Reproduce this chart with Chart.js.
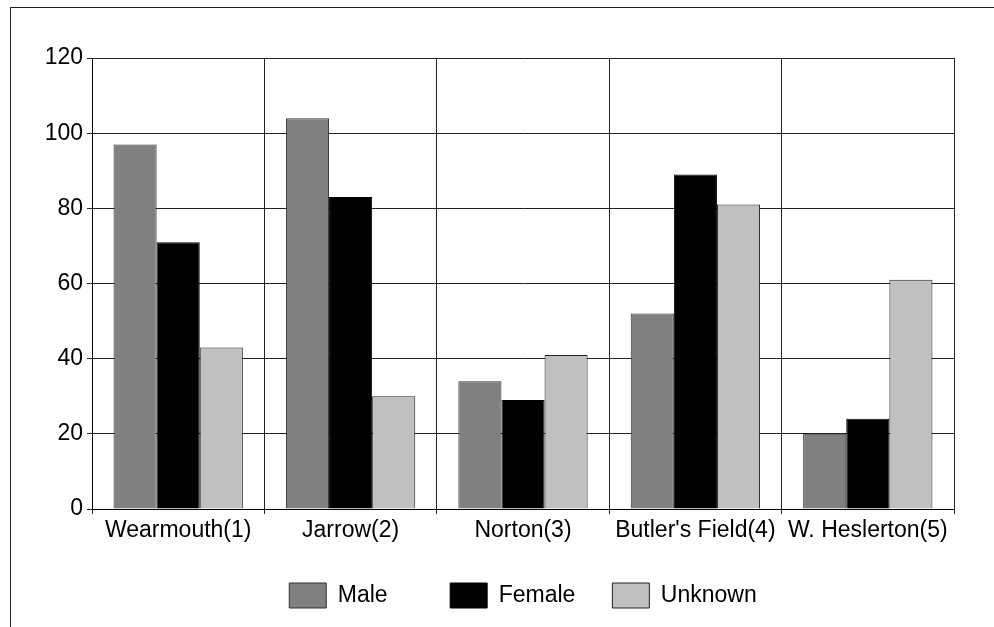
<!DOCTYPE html>
<html>
<head>
<meta charset="utf-8">
<script src="https://cdn.jsdelivr.net/npm/chart.js@4"></script>
<style>
  html, body { margin: 0; padding: 0; background: #fff; overflow: hidden; }
  #frame { position: absolute; left: 10px; top: 7px; width: 1100px; height: 800px; border: 1px solid #222; }
  #plot { position: absolute; left: 0; top: 0; }
</style>
</head>
<body>
<div id="frame"></div>
<canvas id="plot" width="994" height="627"></canvas>
<script>
// cemetery sites and counts per sex
const sites = ['Wearmouth(1)', 'Jarrow(2)', 'Norton(3)', "Butler's Field(4)", 'W. Heslerton(5)'];
const male = [97, 104, 34, 52, 20];
const female = [71, 83, 29, 89, 24];
const unknown = [43, 30, 41, 81, 61];
const yTicks = [0, 20, 40, 60, 80, 100, 120];

Chart.defaults.font.family = '"Liberation Sans", Arial, sans-serif';
Chart.defaults.font.size = 23;
Chart.defaults.color = '#000';

var ctx = document.getElementById('plot').getContext('2d');
var myChart = new Chart(ctx, {
    type: 'bar',
    data: {
        labels: sites,
        datasets: [{
            // trailing spaces keep the legend slots evenly spaced like the original
            label: 'Male    ',
            data: male,
            backgroundColor: '#808080',
            borderColor: '#333',
            borderWidth: 1
        },
        {
            label: 'Female',
            data: female,
            backgroundColor: '#000000',
            borderColor: '#000',
            borderWidth: 1
        },
        {
            label: 'Unknown',
            data: unknown,
            backgroundColor: '#c0c0c0',
            borderColor: '#222',
            borderWidth: 1
        }]
    },
    options: {
        responsive: false,
        animation: false,
        categoryPercentage: 0.75,
        barPercentage: 1.0,
        layout: {
            padding: { left: 0, top: 58, right: 40, bottom: 9 }
        },
        plugins: {
            legend: {
                position: 'bottom',
                fullSize: false,
                labels: {
                    boxWidth: 37,
                    boxHeight: 25,
                    padding: 37,
                    color: '#000'
                }
            },
            tooltip: { enabled: false }
        },
        scales: {
            x: {
                grid: { color: '#222', lineWidth: 1, tickLength: 5, offset: true },
                border: { color: '#000', width: 1 },
                ticks: { padding: 3, maxRotation: 0, autoSkip: false },
                afterFit: function(scale) { scale.height = 37; }
            },
            y: {
                min: 0,
                max: 120,
                afterBuildTicks: function(scale) {
                    scale.ticks = yTicks.map(v => ({ value: v }));
                },
                grid: { color: '#222', lineWidth: 1, tickLength: 5 },
                border: { color: '#000', width: 1 },
                ticks: { padding: 4 },
                afterFit: function(scale) { scale.width = 92; }
            }
        }
    }
});
</script>
</body>
</html>
